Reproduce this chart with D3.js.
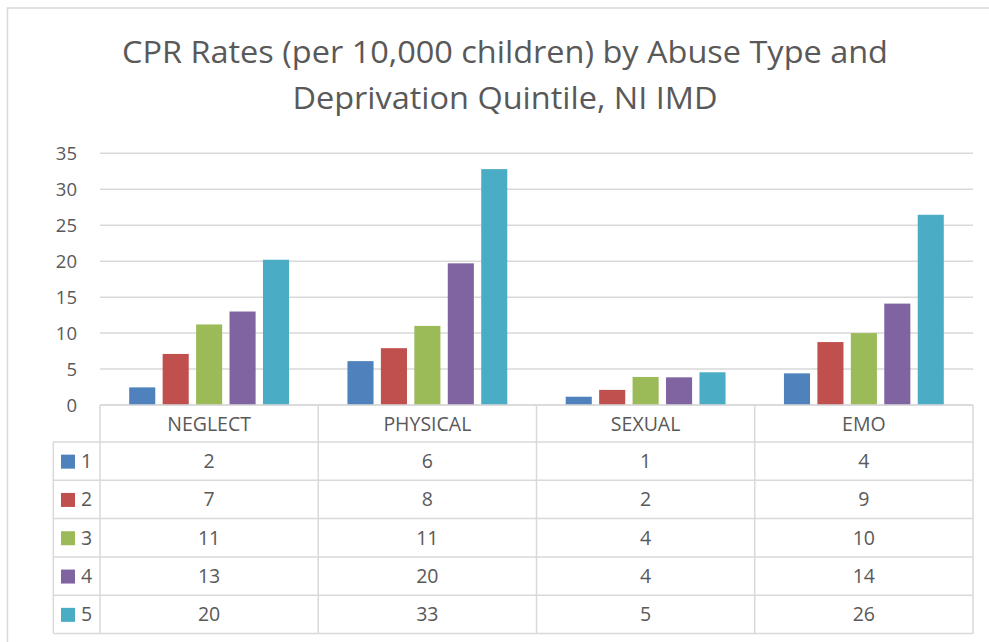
<!DOCTYPE html>
<html>
<head>
<meta charset="utf-8">
<script src="https://cdn.jsdelivr.net/npm/d3@7"></script>
<style>
  body { margin: 0; background: #fff; }
  svg { display: block; font-family: "Open Sans", sans-serif; }
</style>
</head>
<body>
<div id="container"></div>
<script>
// data
let categories = ["NEGLECT", "PHYSICAL", "SEXUAL", "EMO"];
let quintiles = ["1", "2", "3", "4", "5"];
let q1 = [2.45, 6.1, 1.15, 4.4];
let q2 = [7.1, 7.9, 2.1, 8.75];
let q3 = [11.2, 11.0, 3.9, 10.0];
let q4 = [13.0, 19.7, 3.85, 14.1];
let q5 = [20.2, 32.8, 4.55, 26.45];
let yTicks = [0, 5, 10, 15, 20, 25, 30, 35];
let colors = ["#4F81BD", "#C0504D", "#9BBB59", "#8064A2", "#4BACC6"];

let series = [q1, q2, q3, q4, q5];

let w = 989;
let h = 642;
let plotLeft = 100, plotRight = 973;
let plotTop = 153.3, plotBottom = 405;
let textColor = "#595959";
let lineColor = "#D9D9D9";

let viz = d3.select("#container")
  .append("svg")
  .attr("width", w)
  .attr("height", h);

// outer chart border (left and top visible)
viz.append("path")
  .attr("d", "M7.5," + h + " L7.5,8 L" + w + ",8")
  .attr("fill", "none")
  .attr("stroke", lineColor)
  .attr("stroke-width", 1.5);

// title -- Calibri is narrower, so squeeze a taller font to the reference width
let titleLines = ["CPR Rates (per 10,000 children) by Abuse Type and", "Deprivation Quintile, NI IMD"];
let titleSize = 31;
let title = viz.append("g").attr("class", "title");
let titleTexts = title.selectAll("text").data(titleLines).enter()
  .append("text")
  .attr("x", 505)
  .attr("y", function(d, i) { return 63 + i * 45.5; })
  .attr("text-anchor", "middle")
  .attr("fill", textColor)
  .style("font-size", titleSize + "px")
  .text(function(d) { return d; });
let squeeze = 766 / titleTexts.nodes()[0].getComputedTextLength();
titleTexts.each(function() {
  let len = this.getComputedTextLength() * squeeze;
  d3.select(this).attr("textLength", len).attr("lengthAdjust", "spacingAndGlyphs");
});

// scales
let x0 = d3.scaleBand().domain(categories).range([plotLeft, plotRight]);
let pad = 29.2;
let x1 = d3.scaleBand().domain(quintiles)
  .range([pad, x0.bandwidth() - pad])
  .paddingInner(0.22);
let yScale = d3.scaleLinear().domain([0, 35]).range([plotBottom, plotTop]);

// gridlines
viz.append("g").attr("class", "grid")
  .selectAll("line").data(yTicks).enter()
  .append("line")
  .attr("x1", plotLeft).attr("x2", plotRight)
  .attr("y1", function(d) { return yScale(d); })
  .attr("y2", function(d) { return yScale(d); })
  .attr("stroke", lineColor)
  .attr("stroke-width", 1.5);

// y axis labels
let yAxis = d3.axisLeft(yScale).tickValues(yTicks).tickSize(0).tickPadding(0);
let yAxisGroup = viz.append("g")
  .attr("class", "yaxisgroup")
  .attr("transform", "translate(77,0)")
  .call(yAxis);
yAxisGroup.select(".domain").remove();
yAxisGroup.selectAll("text")
  .attr("fill", textColor)
  .attr("dy", "0.36em")
  .style("font-size", "18.5px")
  .style("font-family", "Open Sans, sans-serif");

// bars
let graphGroup = viz.append("g").attr("class", "graphGroup");
let groups = graphGroup.selectAll(".cat").data(categories).enter()
  .append("g")
  .attr("class", "cat")
  .attr("transform", function(d) { return "translate(" + x0(d) + ",0)"; });

groups.selectAll("rect")
  .data(function(d, i) { return series.map(function(s, j) { return { q: quintiles[j], v: s[i], c: colors[j] }; }); })
  .enter()
  .append("rect")
  .attr("x", function(d) { return x1(d.q); })
  .attr("width", x1.bandwidth())
  .attr("y", function(d) { return yScale(d.v); })
  .attr("height", function(d) { return plotBottom - yScale(d.v); })
  .attr("fill", function(d) { return d.c; });

// data table
let headerH = 37;
let rowH = 38.3;
let tableTop = plotBottom;
let legendLeft = 53.3;
let rowTop = function(i) { return tableTop + headerH + i * rowH; };
let tableBottom = rowTop(series.length);

let table = viz.append("g").attr("class", "table")
  .attr("stroke", lineColor).attr("stroke-width", 1.5).attr("fill", "none");

// horizontal lines
table.append("line")
  .attr("x1", plotLeft).attr("x2", plotRight)
  .attr("y1", tableTop).attr("y2", tableTop);
table.selectAll(".hline").data(d3.range(series.length + 1)).enter()
  .append("line").attr("class", "hline")
  .attr("x1", legendLeft).attr("x2", plotRight)
  .attr("y1", function(i) { return rowTop(i); })
  .attr("y2", function(i) { return rowTop(i); });

// vertical lines
table.append("line")
  .attr("x1", legendLeft).attr("x2", legendLeft)
  .attr("y1", rowTop(0)).attr("y2", tableBottom);
let vx = categories.map(function(c) { return x0(c); }).concat([plotRight]);
table.selectAll(".vline").data(vx).enter()
  .append("line").attr("class", "vline")
  .attr("x1", function(d) { return d; }).attr("x2", function(d) { return d; })
  .attr("y1", tableTop).attr("y2", tableBottom);

// header labels
viz.append("g").selectAll("text").data(categories).enter()
  .append("text")
  .attr("x", function(d) { return x0(d) + x0.bandwidth() / 2; })
  .attr("y", tableTop + headerH / 2 + 7.5)
  .attr("text-anchor", "middle")
  .attr("fill", textColor)
  .style("font-size", "19.5px")
  .text(function(d) { return d; });

// legend keys + values
let rows = viz.append("g").selectAll(".row").data(series).enter()
  .append("g").attr("class", "row")
  .attr("transform", function(d, i) { return "translate(0," + (rowTop(i) + rowH / 2) + ")"; });

rows.append("rect")
  .attr("x", 61).attr("y", -6.5)
  .attr("width", 14).attr("height", 14)
  .attr("fill", function(d, i) { return colors[i]; });

rows.append("text")
  .attr("x", 81).attr("y", 7)
  .attr("fill", textColor)
  .style("font-size", "19.5px")
  .text(function(d, i) { return quintiles[i]; });

rows.selectAll(".val").data(function(d) { return d; }).enter()
  .append("text").attr("class", "val")
  .attr("x", function(d, i) { return x0(categories[i]) + x0.bandwidth() / 2; })
  .attr("y", 7)
  .attr("text-anchor", "middle")
  .attr("fill", textColor)
  .style("font-size", "19.5px")
  .text(function(d) { return Math.round(d); });
</script>
</body>
</html>
